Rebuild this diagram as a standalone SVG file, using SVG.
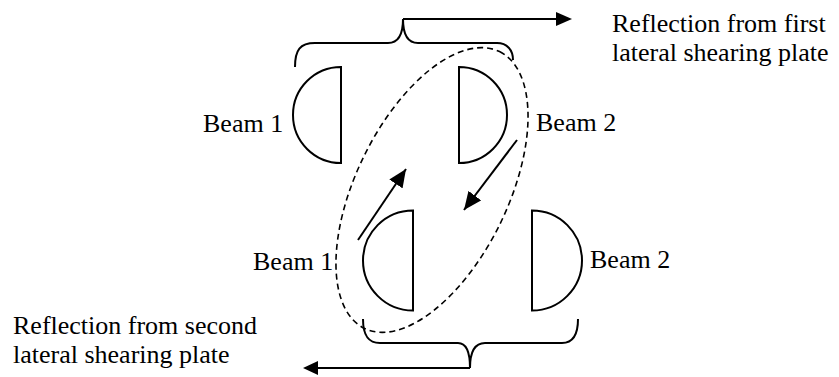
<svg xmlns="http://www.w3.org/2000/svg" width="839" height="377" viewBox="0 0 839 377">
<style>
.ln{fill:none;stroke:#000;stroke-width:2}
.lens{fill:#fff;stroke:#000;stroke-width:2}
.dash{fill:none;stroke:#000;stroke-width:1.6;stroke-dasharray:6 4}
.t{font-family:'Liberation Serif','DejaVu Serif',serif;font-size:26px;fill:#000}
</style>
<defs>
<marker id="ah" markerUnits="userSpaceOnUse" markerWidth="20" markerHeight="16" refX="18" refY="8" orient="auto">
<path d="M0,0 L18,8 L0,16 Z" fill="#000"/>
</marker>
</defs>
<g id="ellipse">
<ellipse class="dash" cx="432" cy="190" rx="154" ry="76" transform="rotate(-64 432 190)"/>
</g>
<g id="beam1-top"><path class="lens" d="M341,67 A48,48 0 0 0 341,163 Z"/></g>
<g id="beam2-top"><path class="lens" d="M459,67 A48,48 0 0 1 459,163 Z"/></g>
<g id="beam1-bottom"><path class="lens" d="M413,210.5 A50,50 0 0 0 413,310.5 Z"/></g>
<g id="beam2-bottom"><path class="lens" d="M532,210.5 A50,50 0 0 1 532,310.5 Z"/></g>
<g id="connectors">
<path class="ln" d="M295,67 C295,50 300,43 315,43 L388,43 C398,43 403,35 403,19 C403,35 408,43 418,43 L497,43 C507,43 513,50 513,60"/>
<path class="ln" d="M363,319 C363,335 368,343 380,343 L458,343 C466,343 470,352 470,368 C470,352 474,343 485,343 L562,343 C572,343 578,335 578,319"/>
<line class="ln" x1="403" y1="19" x2="557" y2="19"/>
<polygon points="556,12 572,19 556,26" fill="#000"/>
<line class="ln" x1="470" y1="368" x2="317" y2="368"/>
<polygon points="318,361 303,368 318,375" fill="#000"/>
<line class="ln" x1="358" y1="240" x2="406" y2="169" marker-end="url(#ah)"/>
<line class="ln" x1="517" y1="140" x2="464" y2="210" marker-end="url(#ah)"/>
</g>
<g id="labels" font-family="Liberation Serif, serif">
<text class="t" x="612" y="32">Reflection from first</text>
<text class="t" x="612" y="61">lateral shearing plate</text>
<text class="t" x="203" y="132">Beam 1</text>
<text class="t" x="536" y="131">Beam 2</text>
<text class="t" x="253" y="270">Beam 1</text>
<text class="t" x="590" y="268">Beam 2</text>
<text class="t" x="13" y="334">Reflection from second</text>
<text class="t" x="13" y="363">lateral shearing plate</text>
</g>
</svg>
